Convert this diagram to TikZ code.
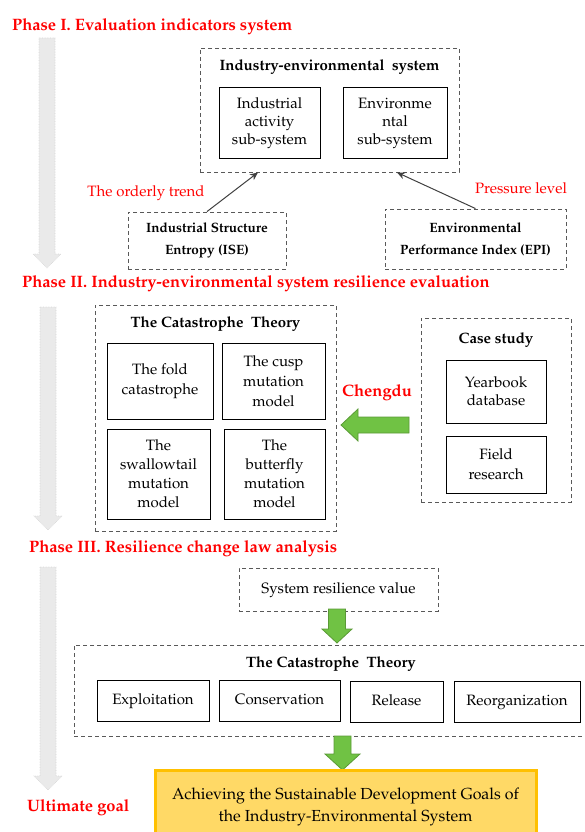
\documentclass[tikz,border=0pt]{standalone}
\usepackage[T1]{fontenc}
\usepackage{mathpazo}
\usetikzlibrary{arrows.meta}
\definecolor{phasered}{HTML}{FF0000}
\definecolor{dashgray}{HTML}{595959}
\definecolor{linkgray}{HTML}{404040}
\definecolor{leafgreen}{HTML}{70C244}
\definecolor{leafedge}{HTML}{5A9A36}
\definecolor{fadegray}{HTML}{EAEAEA}
\definecolor{fadeedge}{HTML}{D6D6D6}
\definecolor{goalfill}{HTML}{FFD966}
\definecolor{goaledge}{HTML}{FFC000}
\tikzset{
  groupbox/.style={draw=dashgray,dash pattern=on 4pt off 3pt,line width=0.9pt,
                   inner sep=0pt,align=center},
  subbox/.style={draw=black,line width=1pt,align=center,inner sep=0pt,
                 font=\fontsize{15}{18}\selectfont},
  stagebox/.style={subbox,minimum height=41pt,text height=10.5pt,text depth=3.5pt},
  indexbox/.style={groupbox,font=\fontsize{13.5}{22}\selectfont\bfseries},
  grouptitle/.style={font=\fontsize{15}{18}\selectfont\bfseries,inner sep=0pt},
  phasetitle/.style={anchor=west,text=phasered,inner sep=0pt,
                     font=\fontsize{16.5}{20}\selectfont\bfseries},
  redlabel/.style={text=phasered,font=\fontsize{15}{18}\selectfont,inner sep=0pt},
  linkarr/.style={-{Stealth[length=8pt,width=7pt]},line width=1pt,color=linkgray},
  fadearrow/.style={fill=fadegray,draw=fadeedge,densely dotted,line width=0.6pt},
  greenarrow/.style={fill=leafgreen,draw=leafedge,line width=0.8pt},
  goalbox/.style={draw=goaledge,fill=goalfill,line width=3pt,align=center,
                  inner sep=0pt,font=\fontsize{16}{22}\selectfont}
}

\begin{document}
\begin{tikzpicture}[x=1pt,y=-1pt]
  \useasboundingbox (0,0) rectangle (584,832);
  % phase I
  \node[phasetitle] (ph1) at (12,27) {Phase I. Evaluation indicators system};
  \draw[fadearrow] (39,38) -- ++(16,0) -- ++(0,216) -- ++(6,0) -- ++(-14,14) -- ++(-14,-14) -- ++(6,0) -- cycle;
  \node[groupbox,minimum width=259pt,minimum height=124pt] (ies) at (329.5,110) {};
  \node[grouptitle] (iestitle) at (329.5,67) {Industry-environmental\ \ system};
  \node[subbox,minimum width=101pt,minimum height=70pt] (indsub) at (269.5,123) {Industrial\\activity\\sub-system};
  \node[subbox,minimum width=104pt,minimum height=70pt] (envsub) at (395,123) {Environme\\ntal\\sub-system};
  \node[indexbox,minimum width=158pt,minimum height=57pt] (ise) at (207,240.5) {Industrial Structure\\Entropy (ISE)};
  \node[indexbox,minimum width=181pt,minimum height=60pt] (epi) at (475.5,239) {Environmental\\Performance Index (EPI)};
  \draw[linkarr] (ise.north) -- ([xshift=-71.5pt]ies.south);
  \draw[linkarr] (epi.north) -- ([xshift=67.5pt]ies.south);
  \node[redlabel] (trend) at (146,193) {The orderly trend};
  \node[redlabel] (pressure) at (521,188) {Pressure level};
  % phase II
  \node[phasetitle] (ph2) at (22,284) {Phase II. Industry-environmental system resilience evaluation};
  \draw[fadearrow] (40,307) -- ++(16,0) -- ++(0,209) -- ++(6,0) -- ++(-14,14) -- ++(-14,-14) -- ++(6,0) -- cycle;
  \node[groupbox,minimum width=241pt,minimum height=226pt] (cat) at (215.5,418) {};
  \node[grouptitle] (cattitle) at (215.5,324) {The Catastrophe\ \ Theory};
  \node[subbox,minimum width=106pt,minimum height=76pt,font=\fontsize{15}{20}\selectfont] (fold) at (160,381) {The fold\\catastrophe};
  \node[subbox,minimum width=103pt,minimum height=76pt,font=\fontsize{15}{20}\selectfont] (cusp) at (273.5,381) {The cusp\\mutation\\model};
  \node[subbox,minimum width=103pt,minimum height=90pt,font=\fontsize{15}{19}\selectfont] (swallow) at (158.5,474) {The\\swallowtail\\mutation\\model};
  \node[subbox,minimum width=101pt,minimum height=90pt,font=\fontsize{15}{19}\selectfont] (butterfly) at (274.5,474) {The\\butterfly\\mutation\\model};
  \node[redlabel,font=\fontsize{16.5}{20}\selectfont\bfseries] (chengdu) at (377,393) {Chengdu};
  \draw[greenarrow] (409,417) -- (358,417) -- (358,409) -- (341,425) -- (358,441) -- (358,433) -- (409,433) -- cycle;
  \node[groupbox,minimum width=150pt,minimum height=184pt] (case) at (496,410) {};
  \node[grouptitle] (casetitle) at (496,340) {Case study};
  \node[subbox,minimum width=100pt,minimum height=63pt] (yearbook) at (496,391.5) {Yearbook\\database};
  \node[subbox,minimum width=100pt,minimum height=57pt,font=\fontsize{15}{20}\selectfont] (field) at (496,464.5) {Field\\research};
  % phase III
  \node[phasetitle] (ph3) at (29,549) {Phase III. Resilience change law analysis};
  \draw[fadearrow] (40,567) -- ++(16,0) -- ++(0,209) -- ++(6,0) -- ++(-14,14) -- ++(-14,-14) -- ++(6,0) -- cycle;
  \node[groupbox,minimum width=199pt,minimum height=43pt,text height=10.5pt,text depth=3.5pt,
        font=\fontsize{15}{18}\selectfont] (srv) at (338.5,589.5) {System resilience value};
  \draw[greenarrow] (328.5,609) -- (345.5,609) -- (345.5,629) -- (352,629) -- (337,643) -- (322,629) -- (328.5,629) -- cycle;
  \node[groupbox,minimum width=514pt,minimum height=91pt] (cat2) at (331,690.5) {};
  \node[grouptitle] (cat2title) at (331,664) {The Catastrophe\ \ Theory};
  \node[stagebox,minimum width=112pt] (expl) at (153,700.5) {Exploitation};
  \node[stagebox,minimum width=121pt] (cons) at (279.5,700.5) {Conservation};
  \node[stagebox,minimum width=93pt] (rel) at (396.5,701.5) {Release};
  \node[stagebox,minimum width=126pt] (reorg) at (517,701.5) {Reorganization};
  \draw[greenarrow] (334,736) -- (351,736) -- (351,754) -- (360,754) -- (342.5,770) -- (325,754) -- (334,754) -- cycle;
  % goal
  \node[goalbox,minimum width=381pt,minimum height=72pt,anchor=north] (goal) at (345.5,769) {Achieving the Sustainable Development Goals of\\the Industry-Environmental System};
  \node[phasetitle] (ult) at (27,808) {Ultimate goal};
\end{tikzpicture}
\end{document}
